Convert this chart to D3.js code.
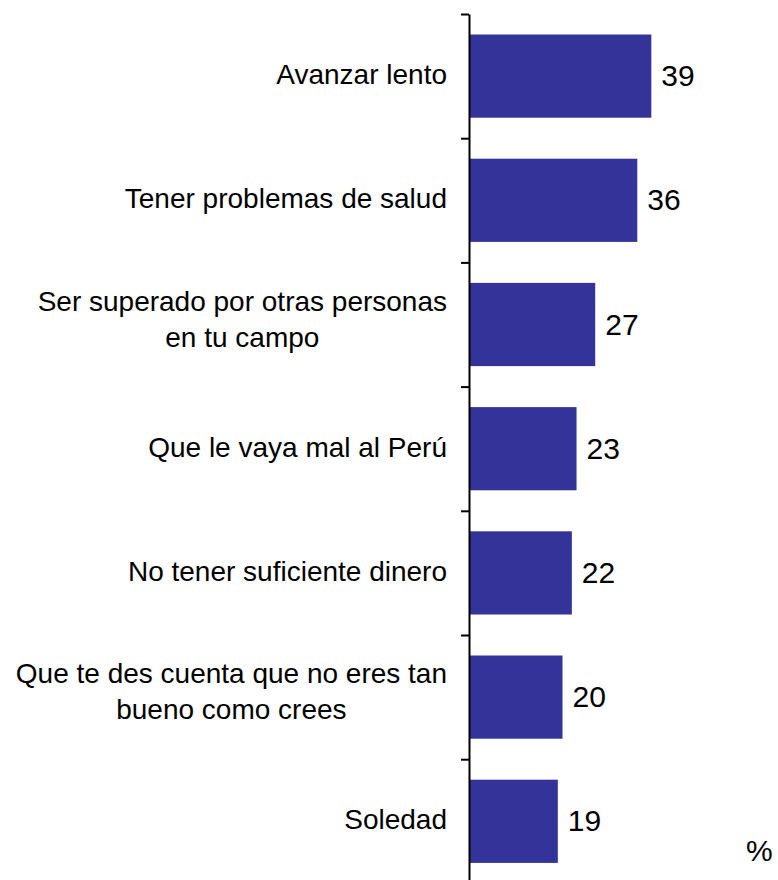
<!DOCTYPE html>
<html>
<head>
<meta charset="utf-8">
<script src="https://cdn.jsdelivr.net/npm/d3@7"></script>
<style>
  body { margin: 0; background: #fff; }
  text { font-family: Arial, "Liberation Sans", sans-serif; fill: #000; }
</style>
</head>
<body>
<div id="chart"></div>
<script>
// data
var categories = [
    "Avanzar lento",
    "Tener problemas de salud",
    "Ser superado por otras personas|en tu campo",
    "Que le vaya mal al Perú",
    "No tener suficiente dinero",
    "Que te des cuenta que no eres tan|bueno como crees",
    "Soledad"
];
var values = [39, 36, 27, 23, 22, 20, 19];
var unitLabel = "%";

var width = 778, height = 880;
var axisX = 469;
var labelRight = 447;
var plotTop = 14, plotBottom = 883.4;

var svg = d3.select("#chart").append("svg")
    .attr("width", width)
    .attr("height", height);

var x = d3.scaleLinear()
    .domain([0, 40])
    .range([axisX, axisX + 187]);

var y = d3.scaleBand()
    .domain(categories)
    .range([plotTop, plotBottom])
    .paddingInner(0.33)
    .paddingOuter(0.165);

// bars
svg.append("g").selectAll("rect")
    .data(values)
    .enter().append("rect")
    .attr("x", x(0))
    .attr("y", function (d, i) { return y(categories[i]); })
    .attr("width", function (d) { return x(d) - x(0); })
    .attr("height", y.bandwidth())
    .style("fill", "#333399");

// axis line with ticks on band edges
var edges = d3.scaleLinear()
    .domain([0, categories.length])
    .range([plotTop, plotBottom]);

var axis = svg.append("g")
    .attr("transform", "translate(" + axisX + ",0)")
    .call(d3.axisLeft(edges)
        .tickValues(d3.range(categories.length + 1))
        .tickSize(8)
        .tickSizeOuter(0)
        .tickFormat(""));
axis.selectAll("path, line")
    .attr("stroke", "#000")
    .attr("stroke-width", 2);

// category labels (multi-line ones are centred blocks, right edge at labelRight)
var labelG = svg.append("g");
categories.forEach(function (c, i) {
    var lines = c.split("|");
    var cy = y(c) + y.bandwidth() / 2;
    if (lines.length == 1) {
        labelG.append("text")
            .attr("text-anchor", "end")
            .style("font-size", "28px")
            .attr("x", labelRight).attr("y", cy + 8)
            .text(lines[0]);
    } else {
        var t1 = labelG.append("text")
            .attr("text-anchor", "middle")
            .style("font-size", "28px")
            .attr("y", cy - 14)
            .text(lines[0]);
        var w = t1.node().getComputedTextLength();
        var mid = labelRight - w / 2;
        t1.attr("x", mid);
        labelG.append("text")
            .attr("text-anchor", "middle")
            .style("font-size", "28px")
            .attr("x", mid).attr("y", cy + 22)
            .text(lines[1]);
    }
});

// value labels
svg.append("g").selectAll("text")
    .data(values)
    .enter().append("text")
    .attr("x", function (d) { return x(d) + 10; })
    .attr("y", function (d, i) { return y(categories[i]) + y.bandwidth() / 2 + 10; })
    .style("font-size", "30px")
    .text(function (d) { return d; });

svg.append("text")
    .attr("x", 746)
    .attr("y", 861)
    .style("font-size", "30px")
    .text(unitLabel);
</script>
</body>
</html>
